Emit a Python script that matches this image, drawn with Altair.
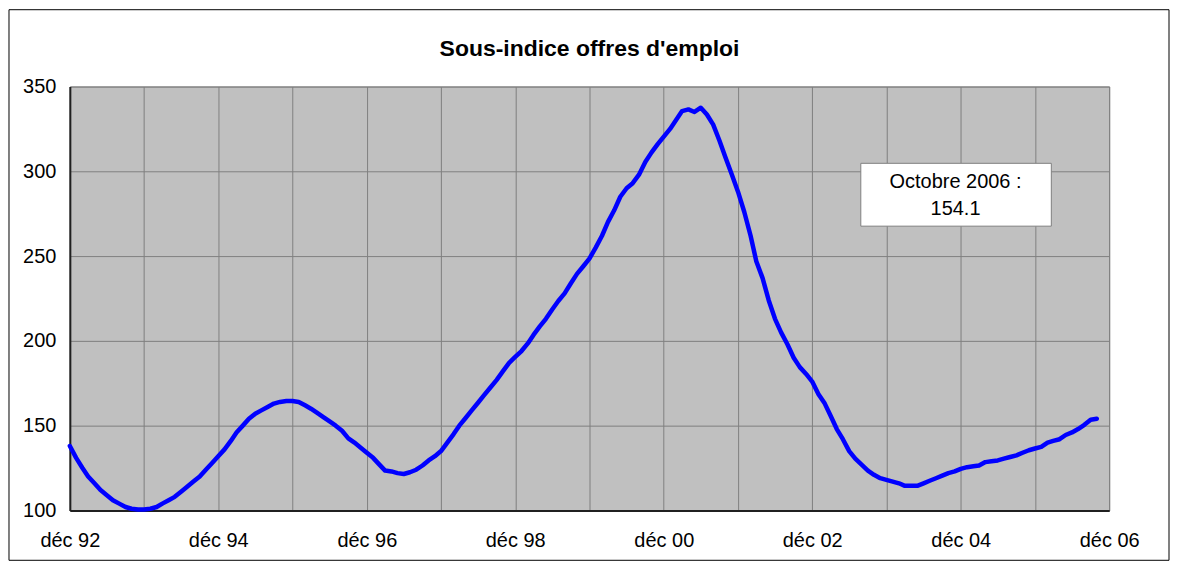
import altair as alt
import pandas as pd

# Monthly values, Dec 1992 .. Oct 2006
values = [
    138, 131, 125, 120, 116, 112, 109, 106, 104, 102, 101, 100.5,
    100.5, 101, 102, 104, 106, 108, 111, 114, 117, 120, 124, 128,
    132, 136, 141, 146, 150, 154, 157, 159, 161, 163, 164, 164.5,
    164.5, 164, 162, 160, 157.5, 155, 152.5, 150, 147, 142.5, 140, 137,
    134, 131, 127, 123.5, 123, 122, 121.5, 122.5, 124, 126.5, 129.5, 132,
    135, 140, 145, 150, 154.5, 159, 163.5, 168, 172.5, 177, 182, 187,
    190.5, 194, 198.5, 203.5, 208.5, 213, 218.5, 223.5, 228, 234, 239.5, 244,
    248.5, 255, 262, 270, 277, 285, 290, 293, 298, 305.5, 311, 316,
    320.5, 325, 330.5, 335.5, 336.5, 335, 337.5, 333.5, 327.5, 318, 308, 298,
    288, 276, 262, 247, 237, 224, 213, 205, 198, 190, 184.5, 180.5,
    176, 168.5, 163, 156, 148, 142, 135, 130.5, 127, 123.5, 121, 119,
    118, 117, 116, 114.5, 114.5, 114.5, 116, 117.5, 119, 120.5, 122, 123,
    124.5, 125.5, 126, 126.5, 128.5, 129, 129.5, 130.5, 131.5, 132.5, 134, 135.5,
    136.5, 137.5, 140, 141, 142, 144.5, 146, 148, 150.5, 153.5, 154.1,
]
months = pd.date_range("1992-12-01", periods=len(values), freq="MS").strftime("%Y-%m-%d").tolist()
tick_years = list(range(1992, 2007))
y_ticks = [100, 150, 200, 250, 300, 350]
title_text = "Sous-indice offres d'emploi"
note_lines = ["Octobre 2006 :", f"{values[-1]}"]

def utc_ms(s):
    return int(pd.Timestamp(s, tz="UTC").timestamp() * 1000)

x_tick_values = [utc_ms(f"{y}-12-01") for y in tick_years]
x_domain = [x_tick_values[0], x_tick_values[-1]]

df = pd.DataFrame({"date": months, "value": values})

FONT = "Liberation Sans"

line = alt.Chart(df).mark_line(color="#0000FF", strokeWidth=4.5, strokeJoin="round", strokeCap="round").encode(
    x=alt.X("date:T",
            scale=alt.Scale(type="utc", domain=x_domain),
            axis=alt.Axis(values=x_tick_values, title=None, ticks=False, labelOverlap=False,
                          labelFlush=False, labelPadding=20, labelFontSize=20, labelFont=FONT,
                          labelColor="#000000", grid=True,
                          labelExpr="utcyear(datum.value) % 2 == 0 ? 'déc ' + utcFormat(datum.value, '%y') : ''")),
    y=alt.Y("value:Q",
            scale=alt.Scale(domain=[100, 350], nice=False, zero=False),
            axis=alt.Axis(values=y_ticks, title=None, ticks=False, labelPadding=14, labelFontSize=20,
                          labelFont=FONT, labelColor="#000000", grid=True)),
)

dummy = pd.DataFrame({"a": [0]})

border = alt.Chart(dummy).mark_rect(fill="transparent", stroke="#000000", strokeWidth=1).encode(
    x=alt.value(-61), x2=alt.value(1102), y=alt.value(-77), y2=alt.value(475)
)

title = alt.Chart(dummy).mark_text(font=FONT, fontSize=23, fontWeight="bold", color="#000000",
                                   align="center", baseline="alphabetic").encode(
    x=alt.value(521), y=alt.value(-31), text=alt.value(title_text)
)

note_box = alt.Chart(dummy).mark_rect(fill="#FFFFFF", stroke="#808080", strokeWidth=1).encode(
    x=alt.value(793), x2=alt.value(984), y=alt.value(77), y2=alt.value(140)
)
note1 = alt.Chart(dummy).mark_text(font=FONT, fontSize=20, color="#000000", align="center",
                                   baseline="alphabetic").encode(
    x=alt.value(888), y=alt.value(102), text=alt.value(note_lines[0])
)
note2 = alt.Chart(dummy).mark_text(font=FONT, fontSize=20, color="#000000", align="center",
                                   baseline="alphabetic").encode(
    x=alt.value(888), y=alt.value(129), text=alt.value(note_lines[1])
)

chart = alt.layer(border, title, line, note_box, note1, note2).properties(
    width=1042,
    height=425,
    padding={"left": 62, "top": 78, "right": 64, "bottom": 55},
    autosize="none",
    background="#FFFFFF",
).configure_view(
    fill="#C0C0C0", stroke="#808080", strokeWidth=1
).configure_axis(
    gridColor="#808080", gridWidth=1, gridOpacity=1,
    domainColor="#202020", domainWidth=2,
)

chart.save("out.html", embed_options={"renderer": "svg", "actions": False})
